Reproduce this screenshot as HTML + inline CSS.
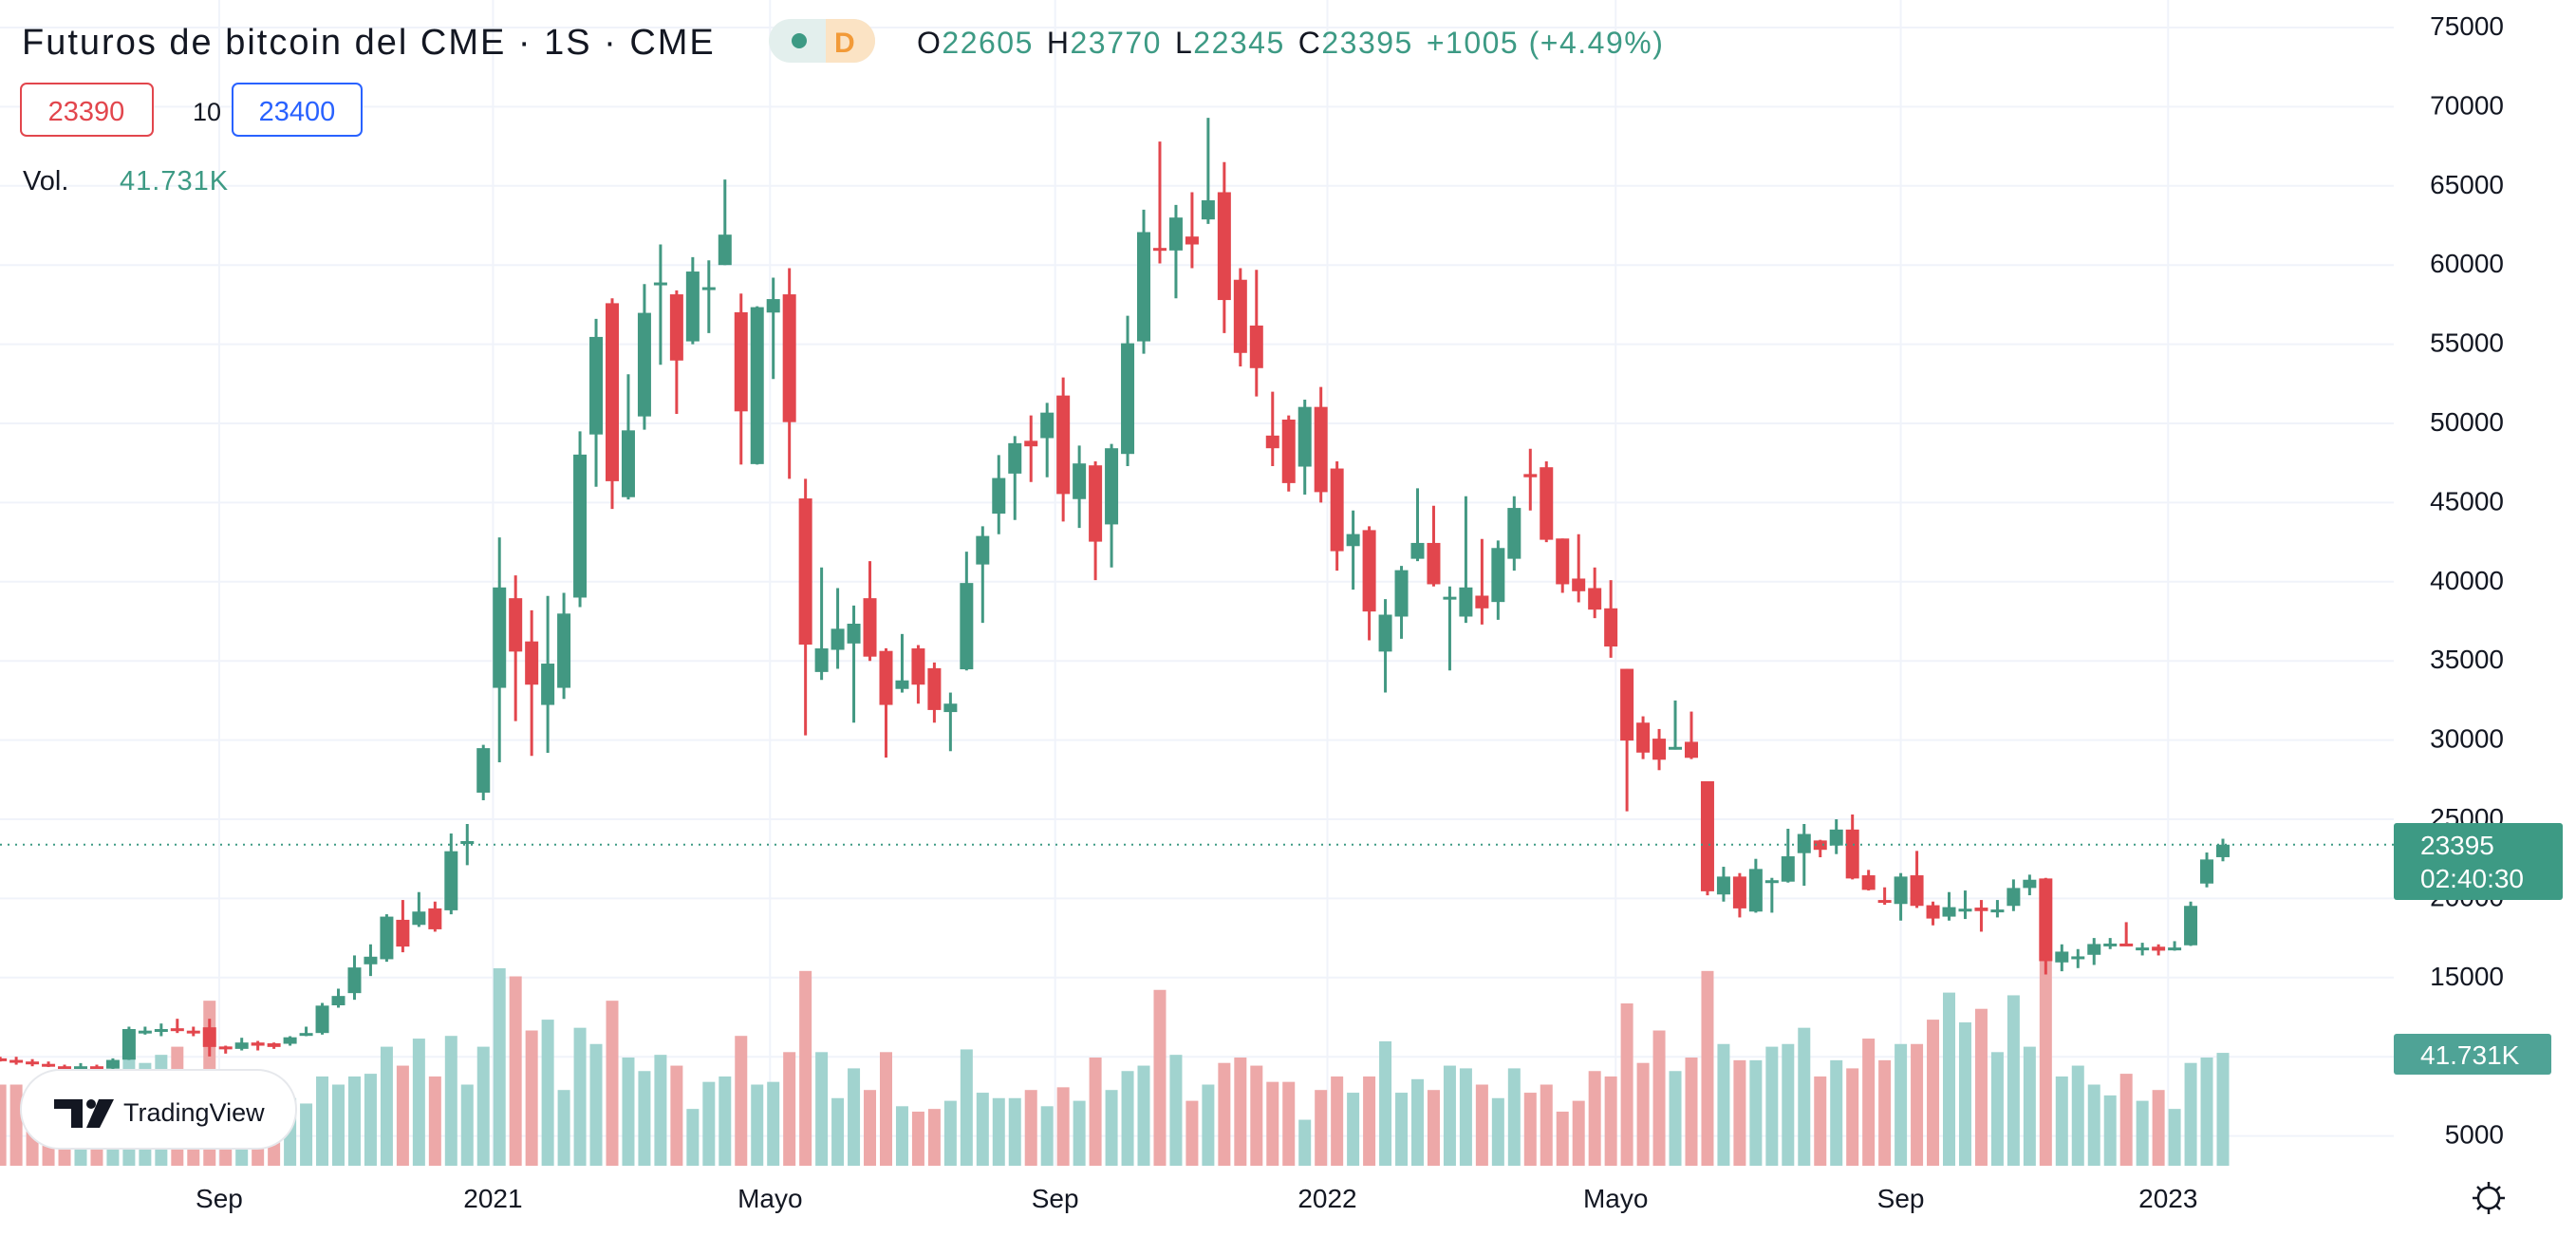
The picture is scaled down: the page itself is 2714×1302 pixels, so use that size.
<!DOCTYPE html>
<html><head><meta charset="utf-8"><style>
html,body{margin:0;padding:0;background:#fff;}
svg{display:block;font-family:"Liberation Sans",sans-serif;}
</style></head><body>
<svg id="chart" width="2714" height="1302" viewBox="0 0 2714 1302" xmlns="http://www.w3.org/2000/svg">
<rect x="0" y="0" width="2714" height="1302" fill="#ffffff"/>
<g id="grid"></g>
<g id="vols"></g>
<g id="candles"></g>
<line id="lastline" x1="0" x2="2522" y1="890" y2="890" stroke="#3d9a84" stroke-width="2" stroke-dasharray="2,6"/>
<g id="yaxis"></g>
<g id="xaxis"></g>

<text x="23" y="57" font-size="38" letter-spacing="2" fill="#131722">Futuros de bitcoin del CME · 1S · CME</text>
<g>
<rect x="810" y="20" width="112" height="46" rx="23" fill="#e3efed"/>
<path d="M870 20 h29 a23 23 0 0 1 0 46 h-29 z" fill="#fbe3c4"/>
<circle cx="842" cy="43" r="8" fill="#3d9a84"/>
<text x="879" y="55" font-size="30" fill="#f29a38" font-weight="bold">D</text>
</g>
<text x="966" y="56" font-size="32" letter-spacing="1.5"><tspan fill="#131722">O</tspan><tspan fill="#3d9a84">22605</tspan><tspan fill="#131722" dx="14">H</tspan><tspan fill="#3d9a84">23770</tspan><tspan fill="#131722" dx="14">L</tspan><tspan fill="#3d9a84">22345</tspan><tspan fill="#131722" dx="14">C</tspan><tspan fill="#3d9a84">23395</tspan><tspan fill="#3d9a84" dx="14">+1005 (+4.49%)</tspan></text>

<rect x="22" y="88" width="139" height="55" rx="6" fill="#fff" stroke="#e2464d" stroke-width="2"/>
<text x="91" y="127" font-size="29" fill="#e2464d" text-anchor="middle">23390</text>
<text x="203" y="127" font-size="27" fill="#131722">10</text>
<rect x="245" y="88" width="136" height="55" rx="6" fill="#fff" stroke="#2962ff" stroke-width="2"/>
<text x="313" y="127" font-size="29" fill="#2962ff" text-anchor="middle">23400</text>
<text x="24" y="200" font-size="29" fill="#131722">Vol.</text>
<text x="126" y="200" font-size="29" letter-spacing="1" fill="#3d9a84">41.731K</text>

<g id="logo">
<rect x="22" y="1127" width="290" height="83" rx="41" fill="#ffffff" stroke="#e6e8ec" stroke-width="2"/>
<path d="M57 1158 h30 v30 h-12 v-20 h-18 z" fill="#131722"/>
<circle cx="96" cy="1163" r="5" fill="#131722"/>
<path d="M104 1158 h16 l-15 30 h-14 z" fill="#131722"/>
<text x="130" y="1181" font-size="27" fill="#131722">TradingView</text>
</g>

<g>
<rect x="2522" y="867" width="178" height="81" rx="3" fill="#3d9a84"/>
<text x="2550" y="900" font-size="28" fill="#ffffff">23395</text>
<text x="2550" y="935" font-size="28" fill="#ffffff">02:40:30</text>
</g>
<g>
<rect x="2522" y="1089" width="166" height="43" rx="3" fill="#4fa396"/>
<text x="2550" y="1121" font-size="28" fill="#ffffff">41.731K</text>
</g>
<g transform="translate(2622,1262)">
<circle r="11" fill="none" stroke="#131722" stroke-width="2.5"/>
<path d="M0 -17 v6 M0 17 v-6 M-17 0 h6 M17 0 h-6 M-12 -12 l4 4 M12 12 l-4 -4 M12 -12 l-4 4 M-12 12 l4 -4" stroke="#131722" stroke-width="2.5"/>
</g>
</svg>
<script>
const opens=[9900,9800,9700,9550,9400,9300,9400,9250,9820,11500,11600,11800,11650,11860,10650,10500,10900,10850,10820,11400,11500,13250,14020,15840,16160,18650,18330,19370,19250,23500,26680,33300,38960,36230,32220,33300,39000,49300,57590,45340,50440,58800,58150,55180,58500,60000,57020,47430,57000,58150,45260,34300,35700,36100,38960,35630,33230,35790,34540,31770,34470,41090,44300,46830,48900,49070,51760,45220,47350,43620,48070,55180,61080,60920,61800,62880,64600,59070,56180,49230,50240,47270,51040,47150,42250,43260,35590,37800,41450,42450,38900,37800,39120,38720,41450,46800,47230,42730,40200,39600,38320,34500,31100,30090,29560,29890,27400,20250,21380,19170,21000,21060,22860,23660,23340,24350,21460,19900,19650,21460,19570,18850,19250,19420,19200,19530,20660,21260,15960,16200,16440,17050,17150,16800,16950,16800,17040,20940,22605];
const highs=[10000,10000,9850,9700,9500,9600,9500,9900,11900,11900,12100,12400,11900,12400,10700,11200,11000,10900,11300,11900,13400,14300,16400,17100,19000,19900,20400,19800,24100,24700,29700,42800,40400,38200,39100,39300,49500,56600,57900,53100,58800,61300,58400,60500,60300,65400,58200,57400,59200,59800,46500,40900,39600,38500,41300,35800,36700,36000,34900,33000,41900,43500,48000,49200,50500,51300,52900,48600,47600,48700,56800,63500,67800,63800,64600,69300,66500,59800,59700,52000,50500,51500,52300,47600,44500,43500,38900,41000,45900,44800,39700,45400,42700,42600,45400,48400,47600,42730,43000,40900,40100,34500,31500,30700,32500,31800,27400,22000,21600,22500,21300,24400,24700,23700,25000,25300,21800,20700,21600,23000,19800,20400,20500,19900,19900,21200,21500,21300,17100,16800,17500,17500,18500,17200,17100,17300,19800,22900,23770];
const lows=[9700,9500,9400,9350,9200,9200,9250,9200,9800,11400,11300,11500,11300,10020,10200,10400,10400,10500,10700,11300,11400,13100,13600,15100,16000,16600,18200,17900,19000,22100,26200,28600,31200,29000,29200,32600,38400,46000,44600,45200,49600,53700,50600,55000,55700,60000,47400,47400,52800,46500,30300,33800,34500,31100,35000,28900,33000,32300,31100,29300,34400,37400,43000,43900,46300,46600,43800,43400,40100,40900,47300,54400,60100,57900,59800,62600,55700,53600,51700,47300,45700,45500,45000,40700,39500,36300,33000,36400,41300,39700,34400,37400,37300,37600,40700,44500,42500,39300,38700,37700,35200,25500,28800,28100,29400,28800,20200,19800,18800,19100,19100,21000,20800,22600,22800,21200,20500,19600,18600,19400,18300,18600,18700,17900,18800,19200,20200,15200,15400,15600,15800,16800,17000,16400,16400,16700,17000,20700,22345];
const closes=[9800,9700,9550,9450,9300,9400,9350,9800,11750,11650,11750,11700,11550,10620,10500,10900,10700,10620,11230,11500,13230,13840,15640,16320,18850,16960,19170,18050,22980,23620,29490,39640,35590,33500,34830,37990,48030,55460,46350,49560,56980,58900,53970,59590,58600,61920,50760,57340,57850,50080,36030,35790,37030,37350,35270,32220,33770,33500,31900,32300,39920,42890,46550,48750,48550,50680,45540,47470,42530,48430,55060,62080,61000,63000,61300,64090,57790,54450,53490,48430,46230,51040,45660,41930,43010,38120,37920,40730,42450,39840,39050,39640,38320,42130,44660,46600,42650,39840,39400,38240,35910,29970,29210,28760,29570,28880,20450,21380,19370,21860,21150,22660,24070,23070,24350,21260,20540,19850,21380,19530,18730,19450,19350,19200,19300,20660,21180,16040,16640,16340,17120,17150,17050,16900,16700,16900,19530,22460,23395];
const volumes=[30,30,25,24,22,24,22,28,40,38,41,44,30,61,28,30,32,30,25,23,33,30,33,34,44,37,47,33,48,30,44,73,70,50,54,28,51,45,61,40,35,41,37,21,31,33,48,30,31,42,72,42,25,36,28,42,22,20,21,24,43,27,25,25,28,22,29,24,40,28,35,37,65,41,24,30,38,40,37,31,31,17,28,33,27,33,46,27,32,28,37,36,30,25,36,27,30,20,24,35,33,60,38,50,35,40,72,45,39,39,44,45,51,33,39,36,47,39,45,45,54,64,53,58,42,63,44,77,33,37,30,26,34,24,28,21,38,40,41.731];
const priceTicks=[75000,70000,65000,60000,55000,50000,45000,40000,35000,30000,25000,20000,15000,10000,5000];
const priceTickLabels=["75000","70000","65000","60000","55000","50000","45000","40000","35000","30000","25000","20000","15000","","5000"];
const timeLabels=["Sep","2021","Mayo","Sep","2022","Mayo","Sep","2023"];
const timeLabelWeeks=[13.6,30.6,47.8,65.5,82.4,100.3,118,134.6];
const lastPrice=23395;

const NS="http://www.w3.org/2000/svg";
const N=closes.length;
const X_LAST=2342, STEP=16.97, PLOT_R=2522;
function xScale(i){return X_LAST-(N-1-i)*STEP;}
function yScale(v){return 29+(75000-v)*83.4/5000;}
function vScale(k){return 1228-k*2.85;}
const GREEN="#429882",RED="#e2464d",VG="#a1d3cf",VR="#eda8a8";
function mk(tag,attrs,parent){const e=document.createElementNS(NS,tag);for(const k in attrs)e.setAttribute(k,attrs[k]);parent.appendChild(e);return e;}

const grid=document.getElementById('grid');
const yaxis=document.getElementById('yaxis');
priceTicks.forEach(function(v,j){
  const y=yScale(v);
  const l=mk('line',{x1:0,x2:PLOT_R,y1:y,y2:y,stroke:'#f0f3fa','stroke-width':2},grid);
  
  
  const t=mk('text',{x:2638,y:y+8,'font-size':28,fill:'#131722','text-anchor':'end'},yaxis);
  t.textContent=priceTickLabels[j];
  
  
});
const xaxis=document.getElementById('xaxis');
timeLabels.forEach(function(s,j){
  const x=xScale(timeLabelWeeks[j]);
  const l=mk('line',{x1:x,x2:x,y1:0,y2:1228,stroke:'#f0f3fa','stroke-width':2},grid);
  
  
  const t=mk('text',{x:x,y:1272,'font-size':28,fill:'#131722','text-anchor':'middle'},xaxis);
  t.textContent=s;
  
  
});

const vols=document.getElementById('vols');
const cg=document.getElementById('candles');
for(let i=0;i<N;i++){
  const x=xScale(i);
  const up=closes[i]>=opens[i];
  const vy=vScale(volumes[i]);
  const vb=mk('rect',{x:x-6.5,y:vy,width:13,height:1228-vy,fill:up?VG:VR},vols);
  
  
  const col=up?GREEN:RED;
  const g=mk('g',{},cg);
  
  
  mk('line',{x1:x,x2:x,y1:yScale(highs[i]),y2:yScale(lows[i]),stroke:col,'stroke-width':3},g);
  const top=yScale(Math.max(opens[i],closes[i])),bot=yScale(Math.min(opens[i],closes[i]));
  mk('rect',{x:x-7,y:top,width:14,height:Math.max(3,bot-top),fill:col},g);
}
const ly=yScale(lastPrice);
const ll=document.getElementById('lastline');
ll.setAttribute('y1',ly);
ll.setAttribute('y2',ly);
</script>
</body></html>
